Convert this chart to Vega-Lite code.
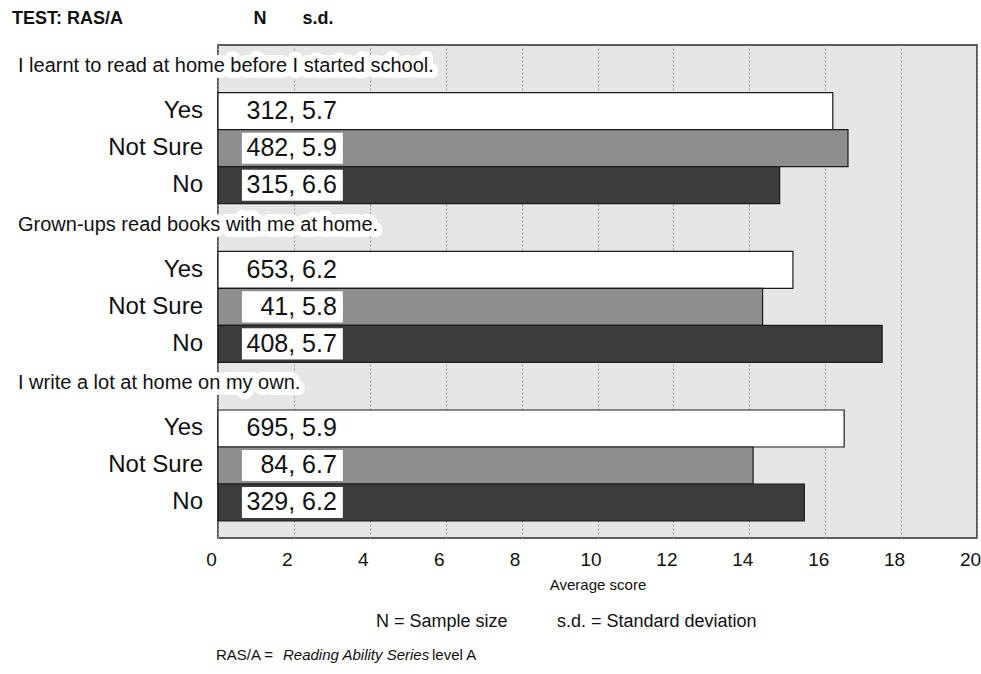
{
  "$schema": "https://vega.github.io/schema/vega-lite/v6.json",
  "autosize": "none",
  "padding": {"left": 218, "top": 45, "right": 4, "bottom": 136},
  "width": 759,
  "height": 493,
  "background": "#ffffff",
  "config": {
    "font": "Liberation Sans",
    "view": {"fill": "#e6e6e6", "stroke": "#2a2a2a", "strokeWidth": 1.5}
  },
  "resolve": {"scale": {"yOffset": "independent"}},
  "datasets": {
    "scores": [
      {"question": "I learnt to read at home before I started school.", "response": "Yes", "score": 16.2, "n": 312, "sd": "5.7"},
      {"question": "I learnt to read at home before I started school.", "response": "Not Sure", "score": 16.6, "n": 482, "sd": "5.9"},
      {"question": "I learnt to read at home before I started school.", "response": "No", "score": 14.8, "n": 315, "sd": "6.6"},
      {"question": "Grown-ups read books with me at home.", "response": "Yes", "score": 15.15, "n": 653, "sd": "6.2"},
      {"question": "Grown-ups read books with me at home.", "response": "Not Sure", "score": 14.35, "n": 41, "sd": "5.8"},
      {"question": "Grown-ups read books with me at home.", "response": "No", "score": 17.5, "n": 408, "sd": "5.7"},
      {"question": "I write a lot at home on my own.", "response": "Yes", "score": 16.5, "n": 695, "sd": "5.9"},
      {"question": "I write a lot at home on my own.", "response": "Not Sure", "score": 14.1, "n": 84, "sd": "6.7"},
      {"question": "I write a lot at home on my own.", "response": "No", "score": 15.45, "n": 329, "sd": "6.2"}
    ],
    "note": [{"k": 1}]
  },
  "data": {"name": "scores"},
  "transform": [
    {"calculate": "datum.n + ', ' + datum.sd", "as": "label"}
  ],
  "encoding": {
    "y": {
      "field": "question",
      "type": "nominal",
      "sort": null,
      "scale": {
        "domain": [
          "I learnt to read at home before I started school.",
          "Grown-ups read books with me at home.",
          "I write a lot at home on my own."
        ],
        "paddingInner": 0,
        "paddingOuter": 0.0536,
        "align": 0
      },
      "axis": null
    }
  },
  "layer": [
    {
      "mark": {"type": "bar", "stroke": "#1a1a1a", "strokeWidth": 1.2},
      "encoding": {
        "x": {
          "field": "score",
          "type": "quantitative",
          "scale": {"domain": [0, 20], "nice": false, "zero": true},
          "axis": {
            "values": [0, 2, 4, 6, 8, 10, 12, 14, 16, 18, 20],
            "grid": true,
            "gridColor": "#9a9a9a",
            "gridDash": [2, 2],
            "gridWidth": 1,
            "ticks": false,
            "domain": false,
            "labelFontSize": 19,
            "labelColor": "#111111",
            "labelPadding": 12,
            "labelOffset": -7,
            "labelFlush": false,
            "title": "Average score",
            "titleFontSize": 15,
            "titleFontWeight": "normal",
            "titleColor": "#111111",
            "titlePadding": 8
          }
        },
        "yOffset": {
          "field": "response",
          "type": "nominal",
          "scale": {"type": "band", "domain": ["Yes", "Not Sure", "No"], "paddingInner": 0, "paddingOuter": 0.644, "align": 1}
        },
        "color": {
          "field": "response",
          "type": "nominal",
          "scale": {"domain": ["Yes", "Not Sure", "No"], "range": ["#ffffff", "#8e8e8e", "#3c3c3c"]},
          "legend": null
        }
      }
    },
    {
      "transform": [{"filter": "datum.response != 'Yes'"}],
      "mark": {"type": "bar", "color": "#ffffff"},
      "encoding": {
        "x": {"datum": 0.63},
        "x2": {"datum": 3.29},
        "yOffset": {
          "field": "response",
          "type": "nominal",
          "scale": {"type": "band", "domain": ["Yes", "Not Sure", "No"], "paddingInner": 0.16, "paddingOuter": 0.724, "align": 0.9455}
        }
      }
    },
    {
      "mark": {"type": "text", "align": "right", "baseline": "middle", "fontSize": 25, "color": "#111111", "dx": -6},
      "encoding": {
        "x": {"datum": 3.29},
        "yOffset": {
          "field": "response",
          "type": "nominal",
          "scale": {"type": "band", "domain": ["Yes", "Not Sure", "No"], "paddingInner": 0, "paddingOuter": 0.644, "align": 1}
        },
        "text": {"field": "label"}
      }
    },
    {
      "mark": {"type": "text", "align": "right", "baseline": "middle", "fontSize": 24, "color": "#111111", "dx": -15},
      "encoding": {
        "x": {"datum": 0},
        "yOffset": {
          "field": "response",
          "type": "nominal",
          "scale": {"type": "band", "domain": ["Yes", "Not Sure", "No"], "paddingInner": 0, "paddingOuter": 0.644, "align": 1}
        },
        "text": {"field": "response"}
      }
    },
    {
      "transform": [{"filter": "datum.response == 'Yes'"}],
      "mark": {"type": "text", "align": "left", "baseline": "middle", "fontSize": 20, "color": "#ffffff", "stroke": "#ffffff", "strokeWidth": 12, "strokeJoin": "round", "dx": -200, "dy": 21},
      "encoding": {
        "x": {"datum": 0},
        "y": {"field": "question", "type": "nominal", "bandPosition": 0},
        "text": {"field": "question"}
      }
    },
    {
      "transform": [{"filter": "datum.response == 'Yes'"}],
      "mark": {"type": "text", "align": "left", "baseline": "middle", "fontSize": 20, "color": "#111111", "dx": -200, "dy": 21},
      "encoding": {
        "x": {"datum": 0},
        "y": {"field": "question", "type": "nominal", "bandPosition": 0},
        "text": {"field": "question"}
      }
    },
    {
      "data": {"name": "note"},
      "mark": {"type": "text", "align": "left", "baseline": "middle", "fontSize": 18, "fontWeight": "bold", "font": "Liberation Sans Narrow, Liberation Sans", "color": "#111111", "text": "TEST: RAS/A", "dx": -206, "dy": -26},
      "encoding": {
        "x": {"datum": 0},
        "y": {"datum": "I learnt to read at home before I started school.", "bandPosition": 0}
      }
    },
    {
      "data": {"name": "note"},
      "mark": {"type": "text", "align": "center", "baseline": "middle", "fontSize": 18, "fontWeight": "bold", "color": "#111111", "text": "N", "dx": 42, "dy": -26},
      "encoding": {
        "x": {"datum": 0},
        "y": {"datum": "I learnt to read at home before I started school.", "bandPosition": 0}
      }
    },
    {
      "data": {"name": "note"},
      "mark": {"type": "text", "align": "center", "baseline": "middle", "fontSize": 18, "fontWeight": "bold", "color": "#111111", "text": "s.d.", "dx": 100, "dy": -26},
      "encoding": {
        "x": {"datum": 0},
        "y": {"datum": "I learnt to read at home before I started school.", "bandPosition": 0}
      }
    },
    {
      "data": {"name": "note"},
      "mark": {"type": "text", "align": "left", "baseline": "middle", "fontSize": 18, "color": "#111111", "text": "N = Sample size", "dx": 158, "dy": 101},
      "encoding": {
        "x": {"datum": 0},
        "y": {"datum": "I write a lot at home on my own.", "bandPosition": 1}
      }
    },
    {
      "data": {"name": "note"},
      "mark": {"type": "text", "align": "left", "baseline": "middle", "fontSize": 18, "color": "#111111", "text": "s.d. =  Standard deviation", "dx": 339, "dy": 101},
      "encoding": {
        "x": {"datum": 0},
        "y": {"datum": "I write a lot at home on my own.", "bandPosition": 1}
      }
    },
    {
      "data": {"name": "note"},
      "mark": {"type": "text", "align": "left", "baseline": "middle", "fontSize": 15, "color": "#111111", "text": "RAS/A = ", "dx": -2, "dy": 134},
      "encoding": {
        "x": {"datum": 0},
        "y": {"datum": "I write a lot at home on my own.", "bandPosition": 1}
      }
    },
    {
      "data": {"name": "note"},
      "mark": {"type": "text", "align": "left", "baseline": "middle", "fontSize": 15, "fontStyle": "italic", "color": "#111111", "text": "Reading Ability Series", "dx": 65, "dy": 134},
      "encoding": {
        "x": {"datum": 0},
        "y": {"datum": "I write a lot at home on my own.", "bandPosition": 1}
      }
    },
    {
      "data": {"name": "note"},
      "mark": {"type": "text", "align": "left", "baseline": "middle", "fontSize": 15, "color": "#111111", "text": "level A", "dx": 214, "dy": 134},
      "encoding": {
        "x": {"datum": 0},
        "y": {"datum": "I write a lot at home on my own.", "bandPosition": 1}
      }
    }
  ]
}
